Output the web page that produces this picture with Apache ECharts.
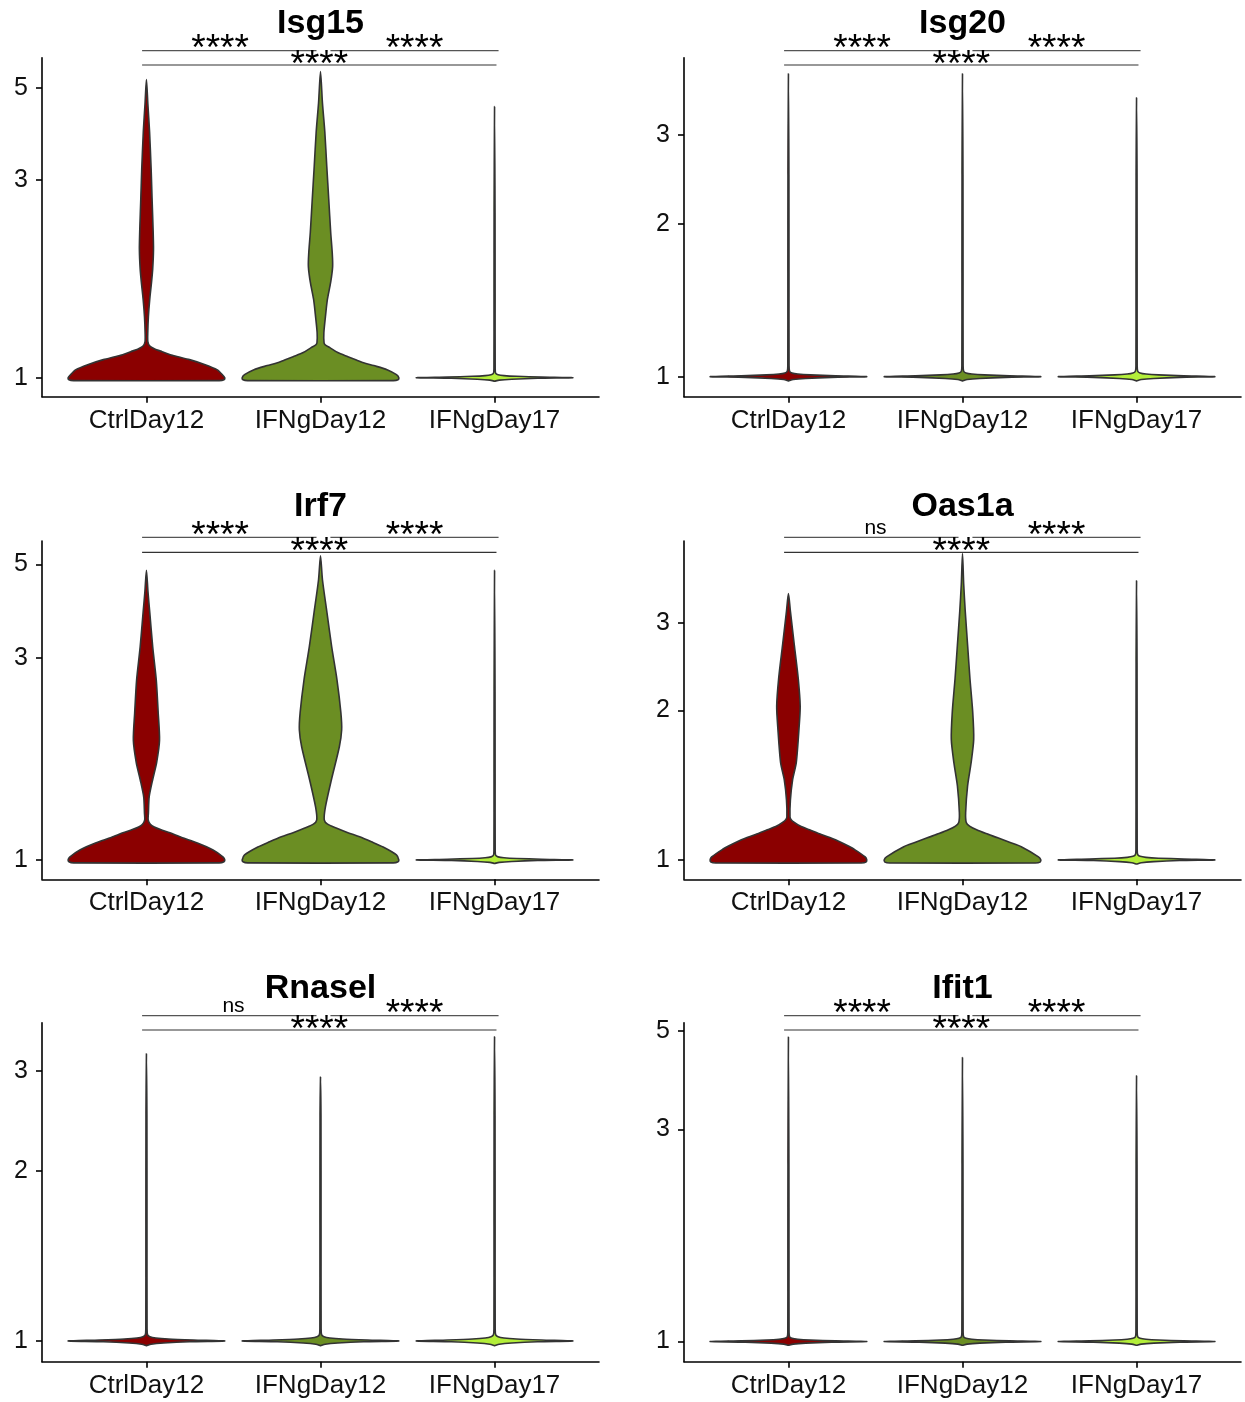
<!DOCTYPE html>
<html>
<head>
<meta charset="utf-8">
<script src="https://cdn.jsdelivr.net/npm/echarts@6/dist/echarts.min.js"></script>
<style>
html,body{margin:0;padding:0;background:#fff;}
#chart{width:1245px;height:1402px;}
</style>
</head>
<body>
<div id="chart"></div>
<script>
// ---------------- DATA ----------------
const categories = ['CtrlDay12', 'IFNgDay12', 'IFNgDay17'];
const geneTitles = ['Isg15', 'Isg20', 'Irf7', 'Oas1a', 'Rnasel', 'Ifit1'];

// y-axis tick labels (log-scaled axis)
const ticksIsg15 = [1, 3, 5];
const ticksIsg20 = [1, 2, 3];
const ticksIrf7 = [1, 3, 5];
const ticksOas1a = [1, 2, 3];
const ticksRnasel = [1, 2, 3];
const ticksIfit1 = [1, 3, 5];

// y-axis limits (original units, axis is log-scaled)
const limitsIsg15 = [0.900, 5.92];
const limitsIsg20 = [0.913, 4.26];
const limitsIrf7 = [0.900, 5.68];
const limitsOas1a = [0.914, 4.39];
const limitsRnasel = [0.919, 3.654];
const limitsIfit1 = [0.901, 5.21];

// significance labels: [Ctrl vs IFNg12, IFNg12 vs IFNg17, Ctrl vs IFNg17]
const comparisons = [[1, 2], [2, 3], [1, 3]];
const sigIsg15 = ['****', '****', '****'];
const sigIsg20 = ['****', '****', '****'];
const sigIrf7 = ['****', '****', '****'];
const sigOas1a = ['ns', '****', '****'];
const sigRnasel = ['ns', '****', '****'];
const sigIfit1 = ['****', '****', '****'];

// violin outlines: [expression value, relative half-width (1 = widest)]
const violinIsg15Ctrl = [[0.984,0.93],[0.989,0.99],[1.0,1.0],[1.017,0.97],[1.046,0.9],[1.075,0.75],[1.106,0.55],[1.13,0.35],[1.156,0.2],[1.175,0.1],[1.195,0.04],[1.222,0.018],[1.285,0.017],[1.405,0.025],[1.545,0.042],[1.70,0.065],[1.83,0.08],[2.04,0.09],[2.28,0.085],[2.70,0.072],[3.19,0.06],[3.92,0.04],[4.58,0.018],[5.24,0]];
const violinIsg15Ifn12 = [[0.984,0.93],[0.989,0.99],[1.0,1.0],[1.017,0.97],[1.046,0.85],[1.07,0.68],[1.087,0.55],[1.105,0.45],[1.124,0.35],[1.15,0.22],[1.182,0.12],[1.2,0.06],[1.215,0.045],[1.285,0.043],[1.405,0.063],[1.545,0.088],[1.70,0.13],[1.857,0.155],[2.0,0.15],[2.245,0.13],[2.70,0.105],[3.24,0.08],[3.92,0.055],[4.6,0.025],[5.48,0]];
const violinIsg15Ifn17 = [[0.981,0],[0.987,0.06],[0.992,0.22],[0.997,0.55],[1.0,1.0],[1.004,0.6],[1.008,0.28],[1.012,0.12],[1.017,0.045],[1.025,0.015],[1.05,0.008],[1.6,0.007],[2.5,0.006],[4.51,0]];

const violinIsg20Ctrl = [[0.981,0],[0.987,0.06],[0.992,0.22],[0.997,0.55],[1.0,1.0],[1.004,0.6],[1.008,0.28],[1.012,0.12],[1.017,0.045],[1.025,0.015],[1.05,0.008],[1.6,0.007],[2.5,0.006],[3.96,0]];
const violinIsg20Ifn12 = [[0.981,0],[0.987,0.06],[0.992,0.22],[0.997,0.55],[1.0,1.0],[1.004,0.6],[1.008,0.28],[1.012,0.12],[1.017,0.045],[1.025,0.015],[1.05,0.008],[1.6,0.007],[2.5,0.006],[3.96,0]];
const violinIsg20Ifn17 = [[0.981,0],[0.987,0.06],[0.992,0.22],[0.997,0.55],[1.0,1.0],[1.004,0.6],[1.008,0.28],[1.012,0.12],[1.017,0.045],[1.025,0.015],[1.05,0.008],[1.6,0.007],[2.5,0.006],[3.55,0]];

const violinIrf7Ctrl = [[0.984,0.93],[0.99,0.99],[1.0,1.0],[1.016,0.98],[1.056,0.85],[1.097,0.65],[1.13,0.45],[1.159,0.3],[1.18,0.18],[1.197,0.1],[1.215,0.05],[1.244,0.022],[1.29,0.025],[1.41,0.035],[1.55,0.08],[1.70,0.13],[1.92,0.167],[2.23,0.15],[2.67,0.125],[3.19,0.08],[3.84,0.043],[4.3,0.02],[4.84,0]];
const violinIrf7Ifn12 = [[0.984,0.93],[0.99,0.99],[1.0,1.0],[1.028,0.97],[1.073,0.8],[1.104,0.65],[1.134,0.5],[1.16,0.35],[1.19,0.2],[1.215,0.09],[1.244,0.048],[1.335,0.063],[1.55,0.14],[1.85,0.24],[2.03,0.27],[2.23,0.26],[2.67,0.21],[3.19,0.143],[3.84,0.083],[4.60,0.025],[5.24,0]];
const violinIrf7Ifn17 = [[0.981,0],[0.987,0.06],[0.992,0.22],[0.997,0.55],[1.0,1.0],[1.004,0.6],[1.008,0.28],[1.012,0.12],[1.017,0.045],[1.025,0.015],[1.05,0.008],[1.6,0.007],[2.5,0.006],[4.84,0]];

const violinOas1aCtrl = [[0.986,0.93],[0.99,0.99],[1.0,1.0],[1.014,0.98],[1.048,0.85],[1.075,0.72],[1.098,0.6],[1.125,0.42],[1.15,0.27],[1.17,0.15],[1.19,0.075],[1.205,0.035],[1.22,0.02],[1.32,0.025],[1.45,0.053],[1.57,0.1],[1.84,0.135],[2.04,0.15],[2.32,0.125],[2.71,0.075],[3.17,0.025],[3.44,0]];
const violinOas1aIfn12 = [[0.986,0.93],[0.99,0.99],[1.0,1.0],[1.014,0.97],[1.063,0.75],[1.085,0.6],[1.108,0.45],[1.13,0.3],[1.15,0.18],[1.17,0.09],[1.19,0.048],[1.245,0.04],[1.41,0.065],[1.57,0.11],[1.75,0.143],[1.99,0.13],[2.32,0.095],[2.71,0.065],[3.17,0.035],[3.6,0.015],[4.14,0]];
const violinOas1aIfn17 = [[0.981,0],[0.987,0.06],[0.992,0.22],[0.997,0.55],[1.0,1.0],[1.004,0.6],[1.008,0.28],[1.012,0.12],[1.017,0.045],[1.025,0.015],[1.05,0.008],[1.6,0.007],[2.5,0.006],[3.65,0]];

const violinRnaselCtrl = [[0.981,0],[0.987,0.06],[0.992,0.22],[0.997,0.55],[1.0,1.0],[1.004,0.6],[1.008,0.28],[1.012,0.12],[1.017,0.045],[1.025,0.015],[1.05,0.008],[1.6,0.007],[2.5,0.006],[3.22,0]];
const violinRnaselIfn12 = [[0.981,0],[0.987,0.06],[0.992,0.22],[0.997,0.55],[1.0,1.0],[1.004,0.6],[1.008,0.28],[1.012,0.12],[1.017,0.045],[1.025,0.015],[1.05,0.008],[1.6,0.007],[2.5,0.006],[2.93,0]];
const violinRnaselIfn17 = [[0.981,0],[0.987,0.06],[0.992,0.22],[0.997,0.55],[1.0,1.0],[1.004,0.6],[1.008,0.28],[1.012,0.12],[1.017,0.045],[1.025,0.015],[1.05,0.008],[1.6,0.007],[2.5,0.006],[3.45,0]];

const violinIfit1Ctrl = [[0.981,0],[0.987,0.06],[0.992,0.22],[0.997,0.55],[1.0,1.0],[1.004,0.6],[1.008,0.28],[1.012,0.12],[1.017,0.045],[1.025,0.015],[1.05,0.008],[1.6,0.007],[2.5,0.006],[4.84,0]];
const violinIfit1Ifn12 = [[0.981,0],[0.987,0.06],[0.992,0.22],[0.997,0.55],[1.0,1.0],[1.004,0.6],[1.008,0.28],[1.012,0.12],[1.017,0.045],[1.025,0.015],[1.05,0.008],[1.6,0.007],[2.5,0.006],[4.35,0]];
const violinIfit1Ifn17 = [[0.981,0],[0.987,0.06],[0.992,0.22],[0.997,0.55],[1.0,1.0],[1.004,0.6],[1.008,0.28],[1.012,0.12],[1.017,0.045],[1.025,0.015],[1.05,0.008],[1.6,0.007],[2.5,0.006],[3.96,0]];

// ---------------- STYLE / LAYOUT ----------------
const fills = ['#8B0000', '#6B8E23', '#B3EE3A'];
const FONT = 'Liberation Sans, Arial, Helvetica, sans-serif';
const colLeft = [42, 684];
const plotW = 557;
const rowTop = [57.7, 541, 1022.7];
const rowBottom = [396.7, 879.3, 1361.7];
const upperOff = [-7, -3.7, -7];
const lowerOff = [7.3, 11.3, 7.3];
const bracketTrim = [[-0.025, -0.023], [0.057, 0.023], [-0.025, 0.011]];
const HALF = 0.45;
const STAR_SIZE = 37;

const panels = [
  { title: geneTitles[0], ticks: ticksIsg15, limits: limitsIsg15, sig: sigIsg15, violins: [violinIsg15Ctrl, violinIsg15Ifn12, violinIsg15Ifn17] },
  { title: geneTitles[1], ticks: ticksIsg20, limits: limitsIsg20, sig: sigIsg20, violins: [violinIsg20Ctrl, violinIsg20Ifn12, violinIsg20Ifn17] },
  { title: geneTitles[2], ticks: ticksIrf7, limits: limitsIrf7, sig: sigIrf7, violins: [violinIrf7Ctrl, violinIrf7Ifn12, violinIrf7Ifn17] },
  { title: geneTitles[3], ticks: ticksOas1a, limits: limitsOas1a, sig: sigOas1a, violins: [violinOas1aCtrl, violinOas1aIfn12, violinOas1aIfn17] },
  { title: geneTitles[4], ticks: ticksRnasel, limits: limitsRnasel, sig: sigRnasel, violins: [violinRnaselCtrl, violinRnaselIfn12, violinRnaselIfn17] },
  { title: geneTitles[5], ticks: ticksIfit1, limits: limitsIfit1, sig: sigIfit1, violins: [violinIfit1Ctrl, violinIfit1Ifn12, violinIfit1Ifn17] }
];

const grid = [], xAxis = [], yAxis = [], series = [], title = [];
const catPos = categories.map((c, i) => i + 1);

panels.forEach((p, i) => {
  const r = Math.floor(i / 2), c = i % 2;
  const top = rowTop[r], h = rowBottom[r] - rowTop[r], left = colLeft[c];
  grid.push({ left: left, top: top, width: plotW, height: h, containLabel: false });
  const lineStyle = { color: '#000', width: 1.6 };
  xAxis.push({
    type: 'value', gridIndex: i, min: 0.4, max: 3.6,
    axisLine: { show: true, onZero: false, lineStyle: lineStyle },
    axisTick: { show: true, customValues: catPos, length: 6, lineStyle: lineStyle },
    axisLabel: { show: true, customValues: catPos, formatter: v => categories[Math.round(v) - 1], margin: 11, fontSize: 26, color: '#111', fontFamily: FONT },
    splitLine: { show: false }
  });
  const tv = p.ticks.map(t => Math.log(t));
  yAxis.push({
    type: 'value', gridIndex: i, min: Math.log(p.limits[0]), max: Math.log(p.limits[1]),
    axisLine: { show: true, onZero: false, lineStyle: lineStyle },
    axisTick: { show: true, customValues: tv, length: 6, lineStyle: lineStyle },
    axisLabel: { show: true, customValues: tv, formatter: v => String(Math.round(Math.exp(v))), margin: 14, fontSize: 25, color: '#111', fontFamily: FONT },
    splitLine: { show: false }
  });
  title.push({
    text: p.title, left: left + plotW / 2, top: top - 33.9 - 17, textAlign: 'center', textVerticalAlign: 'top',
    padding: 0, textStyle: { fontSize: 34, fontWeight: 'bold', color: '#000', lineHeight: 34, fontFamily: FONT }
  });
  // violins
  series.push({
    type: 'custom', xAxisIndex: i, yAxisIndex: i, clip: false, silent: true,
    data: p.violins.map((v, j) => [j + 1, Math.log(v[v.length - 1][0])]),
    renderItem: (params, api) => {
      const j = params.dataIndex;
      const shape = p.violins[j];
      const xc = j + 1;
      const right = shape.map(([val, w]) => api.coord([xc + w * HALF, Math.log(val)]));
      const leftSide = shape.slice(0, -1).map(([val, w]) => api.coord([xc - w * HALF, Math.log(val)])).reverse();
      return {
        type: 'polygon',
        shape: { points: right.concat(leftSide), smooth: 0.25 },
        style: { fill: fills[j], stroke: '#333', lineWidth: 1.6, lineJoin: 'round' }
      };
    }
  });
  // significance brackets
  series.push({
    type: 'custom', xAxisIndex: i, yAxisIndex: i, clip: false, silent: true,
    data: comparisons.map((cmp, k) => [k + 1, 0]),
    renderItem: (params, api) => {
      const k = params.dataIndex;
      const [g1, g2] = comparisons[k];
      const x1 = api.coord([g1 + bracketTrim[k][0], 0])[0];
      const x2 = api.coord([g2 + bracketTrim[k][1], 0])[0];
      const gy = params.coordSys.y;
      const by = gy + (k < 2 ? upperOff[r] : lowerOff[r]);
      const lab = p.sig[k];
      const isStar = lab.indexOf('*') >= 0;
      let lx = (x1 + x2) / 2;
      if (k === 0 && isStar) lx = api.coord([1.423, 0])[0];
      if (k === 0 && !isStar) lx = api.coord([1.5, 0])[0];
      const ty = isStar ? by - 0.5 + (k < 2 ? 0 : 1) : by - 9.3;
      return {
        type: 'group',
        children: [
          { type: 'line', shape: { x1: x1, y1: by, x2: x2, y2: by }, style: { stroke: k < 2 ? '#555' : '#333', lineWidth: 1.2 } },
          { type: 'text', x: lx, y: ty, style: { text: lab, fontSize: isStar ? STAR_SIZE : 21, fontFamily: FONT, fill: '#000', align: 'center', verticalAlign: 'middle' } }
        ]
      };
    }
  });
});

const chart = echarts.init(document.getElementById('chart'), null, { renderer: 'canvas' });
chart.setOption({
  backgroundColor: '#fff',
  animation: false,
  title: title,
  grid: grid,
  xAxis: xAxis,
  yAxis: yAxis,
  series: series
});
</script>
</body>
</html>
